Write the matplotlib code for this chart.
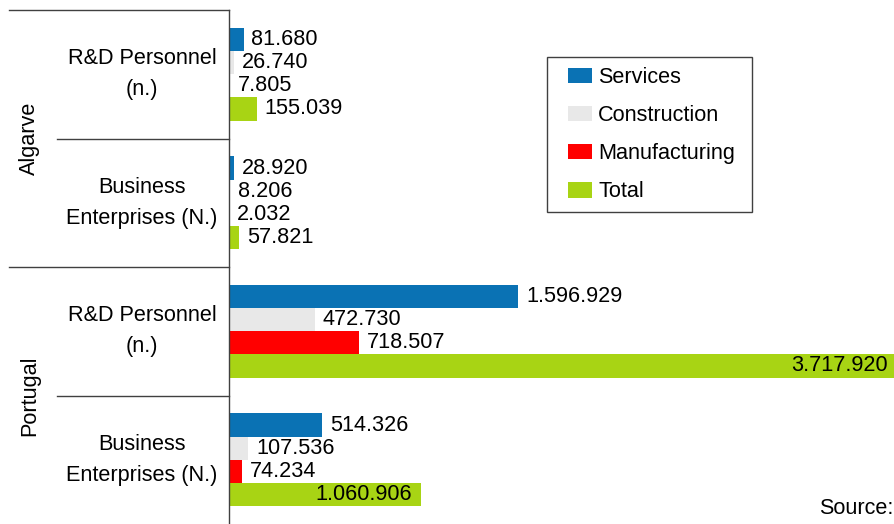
import matplotlib
matplotlib.use("Agg")
import matplotlib.pyplot as plt
from matplotlib.patches import Patch, Rectangle

plt.rcParams['font.family'] = ['Liberation Sans', 'DejaVu Sans']
plt.rcParams['font.size'] = 15.6

# data
categories = ["R&D Personnel\n(n.)", "Business\nEnterprises (N.)",
              "R&D Personnel\n(n.)", "Business\nEnterprises (N.)"]
regions = ["Algarve", "Portugal"]
series = ["Services", "Construction", "Manufacturing", "Total"]
services = [81680, 28920, 1596929, 514326]
construction = [26740, 8206, 472730, 107536]
manufacturing = [7805, 2032, 718507, 74234]
total = [155039, 57821, 3717920, 1060906]
labels_inside = [False, False, True, True]  # only the Total bars of Portugal

colors = ["#0a72b4", "#e8e8e8", "#ff0000", "#a8d414"]
values = [services, construction, manufacturing, total]

fig = plt.figure(figsize=(8.95, 5.24), dpi=100)
ax = fig.add_axes([229 / 895, 0, 1 - 229 / 895, 514 / 524])

h = 0.18
offsets = [-1.5 * h, -0.5 * h, 0.5 * h, 1.5 * h]
xmax = 3674000

for s, (vals, col, off) in enumerate(zip(values, colors, offsets)):
    ys = [i + off for i in range(len(categories))]
    ax.barh(ys, vals, height=h, color=col, edgecolor="none")
    for i, (y, v) in enumerate(zip(ys, vals)):
        txt = f"{v:,}".replace(",", ".")
        if s == 3 and labels_inside[i]:
            ax.annotate(txt, (min(v, xmax * 1.003), y), xytext=(-6.5, 0),
                        textcoords="offset points", ha="right", va="center",
                        annotation_clip=False)
        else:
            ax.annotate(txt, (v, y), xytext=(5.5, 0), textcoords="offset points",
                        ha="left", va="center")

ax.set_xlim(0, xmax)
ax.set_ylim(len(categories) - 0.5, -0.5)
ax.set_xticks([])
ax.set_yticks([])
for sp in ["top", "right", "bottom"]:
    ax.spines[sp].set_visible(False)
ax.spines["left"].set_color("#404040")
ax.spines["left"].set_linewidth(1)

# category grouping lines and labels on the left
tr = ax.get_yaxis_transform()
for b in [-0.5, 0.5, 1.5, 2.5]:
    x0 = -0.330 if b in (-0.5, 1.5) else -0.258
    ax.plot([x0, 0], [b, b], color="#404040", lw=1, transform=tr, clip_on=False)
for i, cat in enumerate(categories):
    ax.text(-0.1306, i, cat, transform=tr, ha="center", va="center",
            linespacing=1.6)
for j, reg in enumerate(regions):
    ax.text(-0.299, 2 * j + 0.5, reg, transform=tr, ha="center", va="center",
            rotation=90)

# legend without its own frame, box drawn separately
handles = [Patch(facecolor=c, edgecolor="none") for c in colors]
leg = ax.legend(handles, series, loc="upper left",
                bbox_to_anchor=(0.509, 0.889), frameon=False,
                handlelength=1.1, handleheight=0.72, handletextpad=0.3,
                labelspacing=0.79, borderpad=0, borderaxespad=0)
ax.add_patch(Rectangle((0.4775, 0.607), 0.3078, 0.3016, transform=ax.transAxes,
                       fill=False, edgecolor="#404040", lw=1, clip_on=False))

fig.text(0.998, (524 - 508) / 524, "Source:", ha="right", va="center")

fig.savefig("out.png", dpi=100)
